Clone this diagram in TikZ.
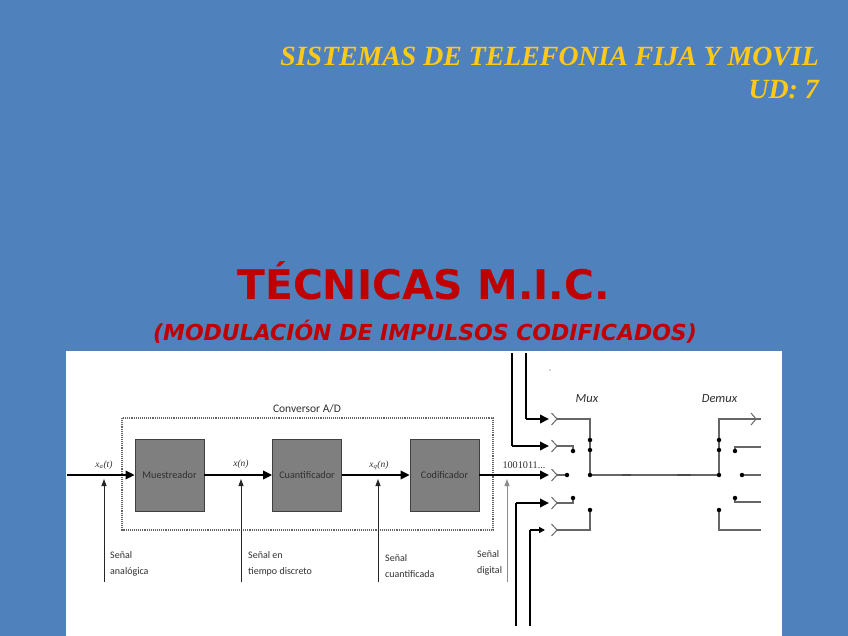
\documentclass[tikz,border=0pt]{standalone}
\usepackage{fontspec}
\setmainfont{Liberation Serif}
\setsansfont{Carlito}
\newfontfamily\djv{DejaVu Sans}
\usetikzlibrary{arrows.meta,calc}
\pgfdeclarelayer{paper}
\pgfdeclarelayer{wires}
\pgfsetlayers{paper,wires,main}
\definecolor{bgblue}{HTML}{4F81BD}
\definecolor{gold}{HTML}{FFC91A}
\definecolor{redt}{HTML}{C00000}
\definecolor{boxg}{HTML}{7F7F7F}
\definecolor{txtg}{HTML}{303030}
\definecolor{wireg}{HTML}{666666}
\tikzset{
 block/.style={draw=black!75,line width=0.8pt,fill=boxg,minimum width=69pt,minimum height=72pt,inner sep=0pt,font=\sffamily\fontsize{10.2}{12}\selectfont,text=txtg},
 lab/.style={font=\sffamily\fontsize{10}{15.5}\selectfont,text=txtg,align=left,anchor=west,inner sep=0pt},
 sym/.style={font=\fontsize{9.5}{12}\selectfont,text=txtg,inner sep=0pt},
 muxlab/.style={font=\sffamily\itshape\fontsize{12.5}{16}\selectfont,text=txtg,inner sep=0pt},
 sig/.style={line width=1.8pt,black,-{Triangle[length=9pt,width=8.5pt]}},
 feed/.style={line width=1.8pt,black},
 up/.style={line width=0.9pt,black!85,-{Triangle[length=7pt,width=5pt]}},
 wire/.style={line width=1.3pt,wireg},
 chev/.style={line width=1pt,wireg},
 pt/.style={circle,fill=black,inner sep=0pt,minimum size=4.5pt},
}
\begin{document}
\begin{tikzpicture}[x=1pt,y=-1pt]
\useasboundingbox (0,0) rectangle (848,636);
\begin{pgfonlayer}{paper}
\fill[bgblue] (0,0) rectangle (848,636);
\fill[white] (66,351) rectangle (782,636);
\end{pgfonlayer}
% titles
\node[anchor=east,inner sep=0pt,text=gold,font=\bfseries\itshape\fontsize{27.8}{32}\selectfont] (t1) at (819,57) {SISTEMAS DE TELEFONIA FIJA Y MOVIL};
\node[anchor=east,inner sep=0pt,text=gold,font=\bfseries\itshape\fontsize{27.8}{32}\selectfont] (t2) at (819,90) {UD: 7};
\node[inner sep=0pt,text=redt,font=\djv\bfseries\fontsize{40.8}{46}\selectfont] (t3) at (423.5,281) {TÉCNICAS M.I.C.};
\node[inner sep=0pt,text=redt,font=\djv\bfseries\itshape\fontsize{22}{26}\selectfont] (t4) at (425,332) {(MODULACIÓN DE IMPULSOS CODIFICADOS)};
% converter
\draw[black!60,line width=1.1pt,densely dotted] (122,418) rectangle (493,530);
\node[inner sep=0pt,text=txtg,font=\sffamily\fontsize{11.5}{14}\selectfont] (conv) at (307,409) {Conversor A/D};
\node[block] (m) at (169.5,475) {Muestreador};
\node[block] (q) at (307,475) {Cuantificador};
\node[block] (c) at (444.5,475) {Codificador};
\coordinate (in) at (67,475);
\coordinate (r3a) at (549,475);
\draw[sig] (in) -- (m);
\draw[sig] (m) -- (q);
\draw[sig] (q) -- (c);
\draw[sig] (c) -- (r3a);
\node[sym] (x0) at (104,465) {\textit{x\textsubscript{a}(t)}};
\node[sym] (x1) at (241,464) {\textit{x(n)}};
\node[sym] (x2) at (379,465) {\textit{x\textsubscript{q}(n)}};
\node[inner sep=0pt,text=txtg,font=\fontsize{10.2}{12}\selectfont] (bits) at (524,465) {1001011...};
% pointers
\foreach \n/\x/\y in {a/104/582,b/241/582,d/378/582}{
 \coordinate (p\n) at (\x,\y);
 \coordinate (h\n) at (\x,479);
 \draw[up] (p\n) -- (h\n);
}
\coordinate (pg) at (507,582); \coordinate (hg) at (507,479);
\draw[up,black!45] (pg) -- (hg);
\node[lab] (la) at (110,564) {Señal\\analógica};
\node[lab] (lb) at (248,564) {Señal en\\tiempo discreto};
\node[lab] (lc) at (385,566) {Señal\\cuantificada};
\node[lab] (ld) at (477,563) {Señal\\digital};
% mux inputs
\coordinate (i1) at (526,353); \coordinate (i1b) at (526,419); \coordinate (a1) at (549,419);
\coordinate (i2) at (512,353); \coordinate (i2b) at (512,446); \coordinate (a2) at (549,446);
\coordinate (i4) at (516,626); \coordinate (i4b) at (516,503); \coordinate (a4) at (549,503);
\coordinate (i5) at (530,626); \coordinate (i5b) at (530,530); \coordinate (a5) at (545,530);
\draw[feed] (i1) -- (i1b); \draw[sig] (i1b) -- (a1);
\draw[feed] (i2) -- (i2b); \draw[sig] (i2b) -- (a2);
\draw[feed] (i4) -- (i4b); \draw[sig] (i4b) -- (a4);
\draw[feed] (i5) -- (i5b); \draw[sig,-{Triangle[length=6pt,width=6pt]}] (i5b) -- (a5);
% chevrons
\foreach \y in {419,446,475,503,530}{
 \draw[chev] (551.5,\y-6) -- (557,\y) -- (551.5,\y+6);
}
\draw[chev] (751,413) -- (756,419) -- (751,425);
% mux wiring
\node[pt] (mt) at (590,440) {};
\node[pt] (mu) at (590,450) {};
\node[pt] (mc) at (590,475) {};
\node[pt] (mb) at (590,510) {};
\node[pt] (s2) at (573,451) {};
\node[pt] (s3) at (567,475) {};
\node[pt] (s4) at (573,498) {};
\node[pt] (dt) at (719,440) {};
\node[pt] (du) at (719,450) {};
\node[pt] (dc) at (719,475) {};
\node[pt] (db) at (719,510) {};
\node[pt] (e2) at (735,451) {};
\node[pt] (e3) at (742,475) {};
\node[pt] (e4) at (735,498) {};
\coordinate (o1) at (761,419);
\coordinate (o2) at (761,447);
\coordinate (o3) at (761,475);
\coordinate (o4) at (761,502);
\coordinate (o5) at (761,530);
\begin{pgfonlayer}{wires}
\draw[wire] (557,419) -| (mc.center);
\draw[wire] (557,446) -| (s2.center);
\draw[wire] (557,475) -- (s3.center);
\draw[wire] (557,503) -| (s4.center);
\draw[wire] (557,530) -| (mb.center);
\draw[wire] (mc.center) -- (dc.center);
\draw[wire] (dc.center) |- (o1);
\draw[wire] (e2.center) |- (o2);
\draw[wire] (e3.center) -- (o3);
\draw[wire] (e4.center) |- (o4);
\draw[wire] (db.center) |- (o5);
\end{pgfonlayer}
\draw[line width=1.6pt,black!70] (622,475) -- (631,475) (677,475) -- (691,475);
\node[muxlab] (mux) at (587,399) {Mux};
\node[muxlab] (dem) at (719.5,399) {Demux};
\fill[black!70] (550,370) circle (0.7pt);
\end{tikzpicture}
\end{document}
